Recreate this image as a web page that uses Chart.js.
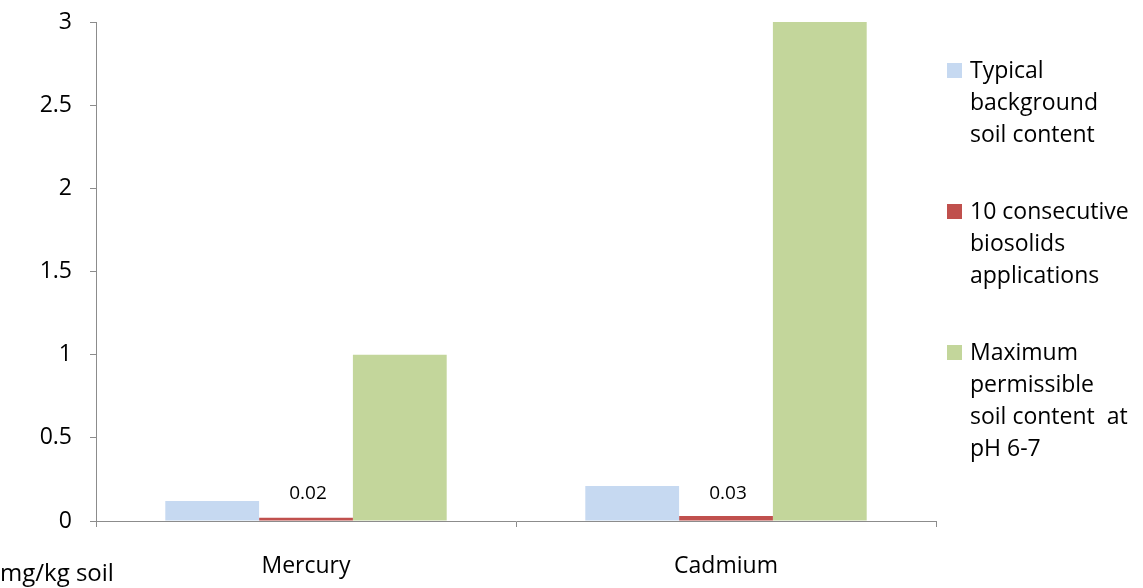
<!DOCTYPE html>
<html>
<head>
<meta charset="utf-8">
<script src="https://cdn.jsdelivr.net/npm/chart.js@4"></script>
<style>
  html, body { margin: 0; padding: 0; background: #fff; }
  #wrap { width: 1143px; height: 588px; position: relative; }
</style>
</head>
<body>
<div id="wrap"><canvas id="chart"></canvas></div>
<script>
// datos
const categorias = ["Mercury", "Cadmium"];
const fondoTipico = [0.12, 0.21];
const biosolidos = [0.02, 0.03];
const maximoPermitido = [1, 3];
const etiquetasSerie = [
  ["Typical", "background", "soil content"],
  ["10 consecutive", "biosolids", "applications"],
  ["Maximum", "permissible", "soil content  at", "pH 6-7"]
];
const unidad = "mg/kg soil";

const fuente = "'Open Sans', sans-serif";
const colores = ["#C6D9F1", "#C0504D", "#C3D69B"];

// leyenda a la derecha y etiqueta de unidades
const extras = {
  id: "extras",
  afterDraw(chart) {
    const ctx = chart.ctx;
    ctx.save();
    ctx.font = "23px " + fuente;
    ctx.fillStyle = "#000";
    ctx.textBaseline = "middle";
    const inicios = [70, 211, 352];
    etiquetasSerie.forEach((lineas, i) => {
      ctx.fillStyle = colores[i];
      ctx.fillRect(947, inicios[i] - 7, 15, 15);
      ctx.fillStyle = "#000";
      lineas.forEach((t, j) => ctx.fillText(t, 970, inicios[i] + 1 + j * 32));
    });
    ctx.font = "24px " + fuente;
    ctx.fillText(unidad, 0, 574);

    // valores sobre las barras rojas
    const meta = chart.getDatasetMeta(1);
    ctx.font = "19px " + fuente;
    ctx.textAlign = "center";
    meta.data.forEach((bar, i) => {
      ctx.fillText(biosolidos[i].toFixed(2), bar.x + 2, 494);
    });
    ctx.restore();
  }
};

const ctx = document.getElementById("chart").getContext("2d");
new Chart(ctx, {
  type: "bar",
  data: {
    labels: categorias,
    datasets: [
      { label: etiquetasSerie[0].join(" "), data: fondoTipico, backgroundColor: colores[0] },
      { label: etiquetasSerie[1].join(" "), data: biosolidos, backgroundColor: colores[1] },
      { label: etiquetasSerie[2].join(" "), data: maximoPermitido, backgroundColor: colores[2] }
    ]
  },
  options: {
    responsive: true,
    maintainAspectRatio: false,
    animation: false,
    layout: { padding: { top: 22, right: 207, left: 0, bottom: 0 } },
    datasets: { bar: { categoryPercentage: 0.67, barPercentage: 1 } },
    plugins: { legend: { display: false }, tooltip: { enabled: false } },
    scales: {
      x: {
        grid: { drawOnChartArea: false, offset: true, tickLength: 6, color: "#8c8c8c" },
        border: { color: "#8c8c8c" },
        ticks: { font: { family: fuente, size: 23 }, color: "#000", padding: 26 },
        afterFit: (s) => { s.height = 67; s.paddingLeft = 0; s.paddingRight = 0; }
      },
      y: {
        min: 0,
        max: 3,
        grid: { drawOnChartArea: false, tickLength: 6, color: "#8c8c8c" },
        border: { color: "#8c8c8c" },
        ticks: {
          stepSize: 0.5,
          font: { family: fuente, size: 23 },
          color: "#000",
          padding: 18,
          callback: (v) => String(v)
        },
        afterFit: (s) => { s.width = 96; s.paddingTop = 0; s.paddingBottom = 0; }
      }
    }
  },
  plugins: [extras]
});
</script>
</body>
</html>
